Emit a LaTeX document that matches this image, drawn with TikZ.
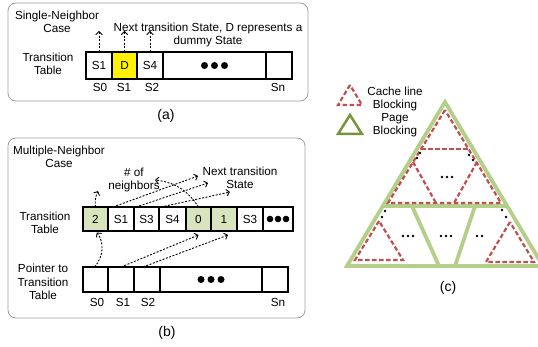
\documentclass[tikz,border=0pt]{standalone}
\usepackage{fontspec}
\setmainfont{Liberation Sans}
\usetikzlibrary{arrows.meta,positioning}

\definecolor{cellgreen}{HTML}{D7E4BD}
\definecolor{pagegreen}{HTML}{B3CF8A}
\definecolor{legendgreen}{HTML}{77933C}
\definecolor{cachered}{HTML}{C0504D}
\definecolor{boxgray}{HTML}{A0A0A0}

\begin{document}
\begin{tikzpicture}[x=1pt,y=-1pt]
\tikzset{
  panel/.style={draw=boxgray,line width=0.8pt,rounded corners=8pt},
  txt/.style={align=center,inner sep=0pt,font=\fontsize{11.7}{13.5}\selectfont},
  caption/.style={inner sep=0pt,font=\fontsize{14}{16}\selectfont},
  cell/.style={draw,line width=1.3pt,inner sep=0pt,outer sep=0pt,minimum width=#1,font=\fontsize{11.7}{13.5}\selectfont},
  acell/.style={cell=#1,minimum height=27pt},
  bcell/.style={cell=#1,minimum height=24pt},
  pcell/.style={cell=#1,minimum height=25pt},
  ptr/.style={-{Straight Barb[length=3pt,width=6.5pt]},line width=0.9pt,dash pattern=on 2pt off 1.5pt},
  page/.style={draw=pagegreen,line width=3.8pt},
  cache/.style={draw=cachered,line width=2.2pt,dash pattern=on 4.5pt off 2.5pt},
  keypage/.style={draw=legendgreen,line width=2.5pt}
}
\useasboundingbox (0,0) rectangle (538,347);

% (a) single neighbor
\draw[panel] (8,3) rectangle (308,101);
\node[txt] (n_a_title) at (57,22) {Single-Neighbor\\Case};
\node[txt] (n_a_row) at (48,64) {Transition\\Table};
\node[txt] (n_a_note) at (208,35) {Next transition State, D represents a\\dummy State};
\node[acell=26pt] (n_a_1) at (99,65.5) {S1};
\node[acell=25pt,fill=yellow] (n_a_2) at (124.5,65.5) {D};
\node[acell=26pt] (n_a_3) at (150,65.5) {S4};
\node[acell=103pt] (n_a_4) at (214.5,65.5) {};
\node[acell=26pt] (n_a_5) at (279,65.5) {};
\foreach \k in {-1,0,1}
  \fill ([xshift=\k*10pt]n_a_4.center) circle (3.5pt);
\node[txt] (n_a_s0) at (100,87) {S0};
\node[txt] (n_a_s1) at (124,87) {S1};
\node[txt] (n_a_s2) at (152,87) {S2};
\node[txt] (n_a_sn) at (278,87) {Sn};
\coordinate (c_a_1) at (99,31);
\coordinate (c_a_2) at (124.5,31);
\coordinate (c_a_3) at (150,31);
\draw[ptr] (n_a_1) -- (c_a_1);
\draw[ptr] (n_a_2) -- (c_a_2);
\draw[ptr] (n_a_3) -- (c_a_3);
\node[caption] (n_a_cap) at (166,116) {(a)};

% (b) multiple neighbors
\draw[panel] (8,138) rectangle (305,318);
\node[txt] (n_b_title) at (59,157) {Multiple-Neighbor\\Case};
\node[txt] (n_b_num) at (134,180) {\# of\\neighbors};
\node[txt] (n_b_next) at (240,178) {Next transition\\State};
\node[txt] (n_b_row) at (45,223) {Transition\\Table};
\node[txt] (n_b_ptr) at (43,282) {Pointer to\\Transition\\Table};
\node[bcell=25pt,fill=cellgreen] (n_t_1) at (95.5,219) {2};
\node[bcell=26pt] (n_t_2) at (121,219) {S1};
\node[bcell=25pt] (n_t_3) at (146.5,219) {S3};
\node[bcell=27pt] (n_t_4) at (172.5,219) {S4};
\node[bcell=25pt,fill=cellgreen] (n_t_5) at (198.5,219) {0};
\node[bcell=26pt,fill=cellgreen] (n_t_6) at (224,219) {1};
\node[bcell=26pt] (n_t_7) at (250,219) {S3};
\node[bcell=30pt] (n_t_8) at (278,219) {};
\foreach \k in {-1,0,1}
  \fill ([xshift=\k*8pt]n_t_8.center) circle (3.3pt);
\node[pcell=25pt] (n_p_1) at (95.5,279.5) {};
\node[pcell=26pt] (n_p_2) at (121,279.5) {};
\node[pcell=26pt] (n_p_3) at (147,279.5) {};
\node[pcell=102pt] (n_p_4) at (211,279.5) {};
\node[pcell=26pt] (n_p_5) at (275,279.5) {};
\foreach \k in {-1,0,1}
  \fill ([xshift=\k*10pt]n_p_4.center) circle (3.5pt);
\node[txt] (n_p_s0) at (97,302) {S0};
\node[txt] (n_p_s1) at (123,302) {S1};
\node[txt] (n_p_s2) at (148,302) {S2};
\node[txt] (n_p_sn) at (278,302) {Sn};
\coordinate (c_b_num) at (98,191);
\coordinate (c_b_zero) at (155,180);
\coordinate (c_b_s1) at (198,176);
\coordinate (c_b_s3) at (208,183);
\coordinate (c_b_s4) at (230,192);
\draw[ptr] (n_t_1.north) to[bend left=15] (c_b_num);
\draw[ptr] (n_t_5.north) to[bend right=25] (c_b_zero);
\draw[ptr] ([xshift=5pt]n_t_2.north west) -- (c_b_s1);
\draw[ptr] ([xshift=2pt]n_t_3.north west) -- (c_b_s3);
\draw[ptr] ([xshift=2pt]n_t_4.north west) -- (c_b_s4);
\draw[ptr,shorten >=2pt] ([xshift=-1pt]n_p_1.north) to[bend right=40] (n_t_1.south);
\draw[ptr] (n_p_2.north) -- ([yshift=-4pt]n_t_5.south);
\draw[ptr] ([xshift=-4pt]n_p_3.north) -- ([xshift=4pt,yshift=-4pt]n_t_6.south);
\node[caption] (n_b_cap) at (167,333) {(b)};

% (c) blocking
\draw[cache] (350,85) -- (338,105) -- (362,105) -- cycle;
\draw[keypage] (350,115) -- (338,134) -- (362,134) -- cycle;
\node[txt,font=\fontsize{11.7}{13.3}\selectfont] (n_c_key) at (395,112) {Cache line\\Blocking\\Page\\Blocking};
\draw[page] (445,102) -- (347,266) -- (543,266) -- cycle;
\draw[page] (382,206) -- (508,206);
\draw[page] (412,206) -- (439,266);
\draw[page] (475,206) -- (455,266);
\draw[cache] (445,110) -- (388,203) -- (501,203) -- cycle;
\draw[cache] (421,149) -- (469,149);
\draw[cache] (413,162) -- (436,203);
\draw[cache] (477,162) -- (454,203);
\draw[cache] (379,221) -- (355,260) -- (403,260) -- cycle;
\draw[cache] (510,222) -- (486,262) -- (534,262) -- cycle;
\foreach \p in {(420,153),(417,158),(469,155),(473,160),(385,211),(382,217),(502,210),(506,217)}
  \fill \p circle (1.4pt);
\foreach \k in {-5,0,5} {
  \fill (447+\k,177) circle (1.4pt);
  \fill (408+\k,236) circle (1.4pt);
  \fill (446+\k,236) circle (1.4pt);
}
\fill (477,236) circle (1.4pt);
\fill (482,236) circle (1.4pt);
\node[caption] (n_c_cap) at (448,288) {(c)};
\end{tikzpicture}
\end{document}
